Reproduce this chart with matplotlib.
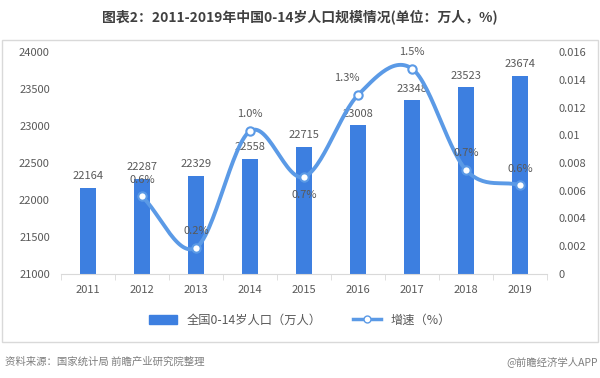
import numpy as np
import matplotlib.pyplot as plt
from matplotlib.patches import Rectangle
from matplotlib.lines import Line2D

plt.rcParams['font.family'] = ['Noto Sans CJK SC', 'DejaVu Sans']

years = ['2011', '2012', '2013', '2014', '2015', '2016', '2017', '2018', '2019']
population = [22164, 22287, 22329, 22558, 22715, 23008, 23348, 23523, 23674]
growth_years = ['2012', '2013', '2014', '2015', '2016', '2017', '2018', '2019']
growth = [0.0056, 0.0019, 0.0103, 0.0070, 0.0129, 0.0148, 0.0075, 0.0064]
growth_labels = ['0.6%', '0.2%', '1.0%', '0.7%', '1.3%', '1.5%', '0.7%', '0.6%']

bar_color = '#3d7fe0'
line_color = '#5b9ae6'
text_color = '#595959'


def smooth(x, y, n=30):
    # catmull-rom style curve through the points, like Excel smoothed lines
    x = np.asarray(x, float)
    y = np.asarray(y, float)
    px = np.concatenate([[2 * x[0] - x[1]], x, [2 * x[-1] - x[-2]]])
    py = np.concatenate([[2 * y[0] - y[1]], y, [2 * y[-1] - y[-2]]])
    xs, ys = [], []
    for i in range(1, len(px) - 2):
        t = np.linspace(0, 1, n)
        for p, out in ((px, xs), (py, ys)):
            p0, p1, p2, p3 = p[i - 1], p[i], p[i + 1], p[i + 2]
            out.extend(0.5 * ((2 * p1) + (-p0 + p2) * t
                              + (2 * p0 - 5 * p1 + 4 * p2 - p3) * t ** 2
                              + (-p0 + 3 * p1 - 3 * p2 + p3) * t ** 3))
    return np.array(xs), np.array(ys)


fig = plt.figure(figsize=(6, 3.78), dpi=100)
fig.patches.append(Rectangle((2 / 600, 1 - 342 / 378), 596 / 600, 302 / 378,
                             transform=fig.transFigure, fill=False,
                             edgecolor='#d9d9d9', linewidth=1))
fig.text(0.5, 1 - 17 / 378, '图表2：2011-2019年中国0-14岁人口规模情况(单位：万人，%)',
         ha='center', va='center', fontsize=10, fontweight='bold', color='#404040')

ax = fig.add_axes([61 / 600, 1 - 274 / 378, 486 / 600, 222 / 378])
x = np.arange(len(years))
bars = ax.bar(x, population, width=0.3, color=bar_color, zorder=2)
for xi, v in zip(x, population):
    ax.text(xi, v + 90, str(v), ha='center', va='bottom', fontsize=8, color=text_color)

ax.set_ylim(21000, 24000)
ax.set_xlim(-0.5, len(years) - 0.5)
ax.set_yticks(range(21000, 24001, 500))
ax.set_xticks(x)
ax.set_xticklabels(years)
ax.set_xticks(np.arange(-0.5, len(years), 1), minor=True)
ax.tick_params(axis='x', which='major', length=0, pad=8, labelsize=8, labelcolor=text_color)
ax.tick_params(axis='x', which='minor', length=4, color='#d9d9d9')
ax.tick_params(axis='y', length=0, labelsize=8, labelcolor=text_color, pad=8)
for s in ['top', 'right', 'left']:
    ax.spines[s].set_visible(False)
ax.spines['bottom'].set_color('#d9d9d9')

ax2 = ax.twinx()
gx = np.array([years.index(g) for g in growth_years])
sx, sy = smooth(gx, growth)
ax2.plot(sx, sy, color=line_color, linewidth=2.8, zorder=3)
ax2.plot(gx, growth, linestyle='none', marker='o', markersize=6,
         markerfacecolor='white', markeredgecolor=line_color, markeredgewidth=1.5, zorder=4)
offsets = [(0, 12), (0, 12), (0, 12), (0, -13), (-8, 12), (0, 12), (0, 12), (0, 12)]
for xi, v, lab, (dx, dy) in zip(gx, growth, growth_labels, offsets):
    ax2.annotate(lab, (xi, v), xytext=(dx, dy), textcoords='offset points',
                 ha='center', va='center', fontsize=8, color=text_color, zorder=5)
ax2.set_ylim(0, 0.016)
ax2.set_yticks(np.arange(0, 0.0161, 0.002))
ax2.set_yticklabels(['0', '0.002', '0.004', '0.006', '0.008', '0.01', '0.012', '0.014', '0.016'])
ax2.tick_params(axis='y', length=0, labelsize=8, labelcolor=text_color, pad=8)
for s in ['top', 'right', 'left', 'bottom']:
    ax2.spines[s].set_visible(False)

handles = [Rectangle((0, 0), 1, 1, color=bar_color),
           Line2D([], [], color=line_color, linewidth=2.5, marker='o', markersize=5,
                  markerfacecolor='white', markeredgecolor=line_color)]
fig.legend(handles, ['全国0-14岁人口（万人）', '增速（%）'], loc='center',
           bbox_to_anchor=(0.5, 1 - 320 / 378), ncol=2, frameon=False,
           fontsize=8.8, labelcolor=text_color, handlelength=2.3, columnspacing=2.5)

fig.text(5 / 600, 1 - 362 / 378, '资料来源：国家统计局 前瞻产业研究院整理',
         ha='left', va='center', fontsize=7.5, color='#7f7f7f')
fig.text(598 / 600, 1 - 362 / 378, '@前瞻经济学人APP',
         ha='right', va='center', fontsize=7.5, color='#7f7f7f')

fig.savefig('out.png', dpi=100)
